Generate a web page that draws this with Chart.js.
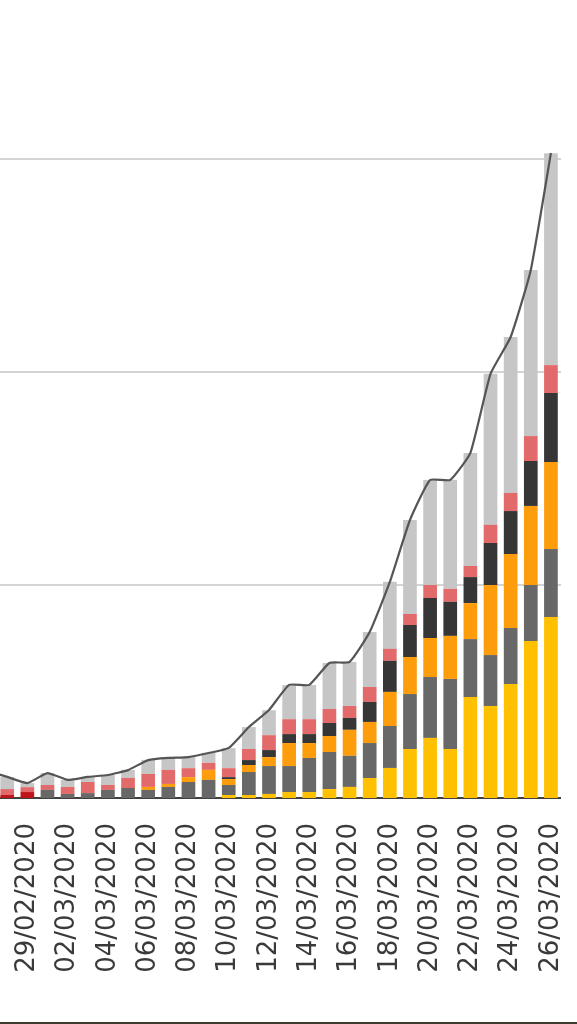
<!DOCTYPE html>
<html>
<head>
<meta charset="utf-8">
<script src="https://cdn.jsdelivr.net/npm/chart.js@4/dist/chart.umd.min.js"></script>
<style>
  html, body { margin: 0; padding: 0; background: #fff; overflow: hidden; }
  body { width: 577px; height: 1024px; position: relative; }
  #chart { position: absolute; left: -23px; top: 0; }
  #bottomLine { position: absolute; left: 0; bottom: 0; width: 577px; height: 2px; background: #3d3b2e; }
</style>
</head>
<body>
<canvas id="chart" width="584" height="1000"></canvas>
<div id="bottomLine"></div>
<script>
// dates, one per day (27/02 is only partly visible at the left edge)
const dates = [
    '27/02/2020', '28/02/2020', '29/02/2020', '01/03/2020', '02/03/2020', '03/03/2020',
    '04/03/2020', '05/03/2020', '06/03/2020', '07/03/2020', '08/03/2020', '09/03/2020',
    '10/03/2020', '11/03/2020', '12/03/2020', '13/03/2020', '14/03/2020', '15/03/2020',
    '16/03/2020', '17/03/2020', '18/03/2020', '19/03/2020', '20/03/2020', '21/03/2020',
    '22/03/2020', '23/03/2020', '24/03/2020', '25/03/2020', '26/03/2020'
];

// stacked series, bottom to top
const darkRed = [23, 14, 28, 0, 0, 0, 0, 0, 0, 0, 0, 0, 0, 0, 0, 0, 0, 0, 0, 0, 0, 0, 0, 0, 0, 0, 0, 0, 0];
const yellow = [0, 0, 0, 0, 0, 0, 0, 0, 0, 0, 0, 0, 14, 14, 19, 28, 28, 42, 52, 94, 141, 230, 282, 230, 474, 432, 535, 737, 850];
const midGrey = [0, 0, 0, 38, 19, 23, 38, 47, 38, 52, 75, 85, 47, 108, 131, 122, 160, 174, 146, 164, 197, 258, 286, 329, 272, 239, 263, 263, 319];
const orange = [0, 0, 0, 0, 0, 0, 0, 0, 14, 14, 23, 47, 28, 33, 42, 108, 70, 75, 122, 99, 160, 174, 183, 202, 169, 329, 347, 371, 408];
const darkGrey = [0, 0, 0, 0, 0, 0, 0, 0, 0, 0, 0, 0, 9, 23, 33, 42, 42, 61, 56, 94, 146, 150, 188, 160, 122, 197, 202, 211, 324];
const pink = [28, 28, 23, 23, 33, 52, 23, 47, 61, 66, 42, 33, 42, 52, 70, 70, 70, 66, 56, 70, 56, 52, 61, 61, 52, 85, 85, 117, 131];
const lightGrey = [75, 56, 19, 56, 33, 23, 47, 38, 66, 56, 52, 47, 94, 103, 117, 160, 160, 216, 207, 258, 315, 441, 493, 512, 531, 709, 732, 779, 995];

// total line
const totals = [127, 99, 70, 117, 85, 99, 108, 131, 178, 188, 192, 211, 235, 333, 413, 531, 531, 634, 639, 779, 1014, 1305, 1493, 1493, 1620, 1991, 2164, 2479, 3028];

// horizontal gridlines
const gridValues = [1000, 2000, 3000];

const barSet = (data, color) => ({
    type: 'bar',
    data: data,
    backgroundColor: color,
    borderWidth: 0,
    barPercentage: 0.68,
    categoryPercentage: 1,
    order: 1
});

const ctx = document.getElementById('chart').getContext('2d');
new Chart(ctx, {
    data: {
        labels: dates,
        datasets: [
            {
                type: 'line',
                data: totals,
                borderColor: '#555555',
                borderWidth: 2.2,
                pointRadius: 0,
                tension: 0.15,
                fill: false,
                stack: 'total',
                order: 0
            },
            barSet(darkRed, '#c0161b'),
            barSet(yellow, '#ffc000'),
            barSet(midGrey, '#686868'),
            barSet(orange, '#fd9d0c'),
            barSet(darkGrey, '#363636'),
            barSet(pink, '#e26a6a'),
            barSet(lightGrey, '#c6c6c6')
        ]
    },
    options: {
        responsive: false,
        animation: false,
        layout: { padding: 0 },
        plugins: {
            legend: { display: false },
            tooltip: { enabled: false }
        },
        scales: {
            x: {
                stacked: true,
                grid: { display: false },
                border: { display: true, color: '#404040', width: 2 },
                ticks: {
                    autoSkip: false,
                    minRotation: 90,
                    maxRotation: 90,
                    padding: 17,
                    color: '#3a3a3a',
                    font: { family: 'DejaVu Sans', size: 26 },
                    callback: function (value, index) {
                        return index > 0 && index % 2 === 0 ? dates[index] : '';
                    }
                },
                afterFit: (scale) => {
                    scale.height = 202;
                    scale.paddingLeft = 0;
                    scale.paddingRight = 0;
                }
            },
            y: {
                stacked: true,
                min: 0,
                max: 3746,
                ticks: { display: false },
                border: { display: false },
                grid: {
                    display: true,
                    drawTicks: false,
                    lineWidth: 2,
                    color: '#d4d4d4'
                },
                afterBuildTicks: (scale) => {
                    scale.ticks = gridValues.map(v => ({ value: v }));
                },
                afterFit: (scale) => {
                    scale.width = 0;
                }
            }
        }
    }
});
</script>
</body>
</html>
